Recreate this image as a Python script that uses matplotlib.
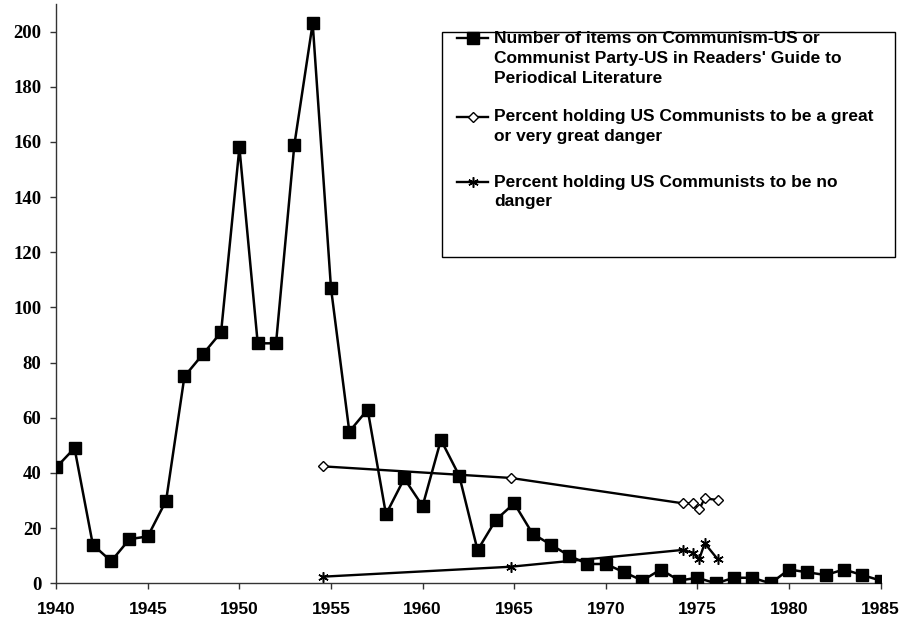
import matplotlib
matplotlib.use("Agg")
import matplotlib.pyplot as plt
from matplotlib.lines import Line2D
from matplotlib.patches import Rectangle

# -----------------------
# Data
# -----------------------
years = list(range(1940, 1986))
items = [42, 49, 14, 8, 16, 17, 30, 75, 83, 91,
         158, 87, 87, 159, 203, 107, 55, 63, 25, 38,
         28, 52, 39, 12, 23, 29, 18, 14, 10, 7,
         7, 4, 1, 5, 1, 2, 0, 2, 2, 0,
         5, 4, 3, 5, 3, 1]

poll_dates = [1954.55, 1964.8, 1974.2, 1974.75, 1975.1, 1975.4, 1976.1]
great_danger = [42.4, 38.2, 29, 29, 26.8, 30.8, 30.2]
no_danger = [2.4, 6.0, 12.1, 11.1, 8.8, 14.5, 8.8]

x_ticks = [1940, 1945, 1950, 1955, 1960, 1965, 1970, 1975, 1980, 1985]
y_ticks = [0, 20, 40, 60, 80, 100, 120, 140, 160, 180, 200]

labels = [
    ["Number of items on Communism-US or",
     "Communist Party-US in Readers' Guide to",
     "Periodical Literature"],
    ["Percent holding US Communists to be a great",
     "or very great danger"],
    ["Percent holding US Communists to be no",
     "danger"],
]

W, H = 906, 625
fig = plt.figure(figsize=(W / 100, H / 100), dpi=100)
ax = fig.add_axes([56.2 / W, 1 - 583.3 / H, (880.6 - 56.2) / W, (583.3 - 4) / H])

ast = (6, 2, 0)
ax.plot(poll_dates, great_danger, color='black', lw=1.7, marker='D', ms=5.5,
        mfc='white', mec='black', mew=1, zorder=3)
ax.plot(poll_dates, no_danger, color='black', lw=1.7, marker=ast, ms=7.5,
        mec='black', mew=1.1, zorder=3)
ax.plot(years, items, color='black', lw=1.8, marker='s', ms=8.5, zorder=4)

ax.set_xlim(1940, 1985)
ax.set_ylim(0, 210)
ax.set_xticks(x_ticks)
ax.set_yticks(y_ticks)
ax.set_xticklabels([str(t) for t in x_ticks], fontfamily='Liberation Sans',
                   fontweight='bold', fontsize=12.5)
ax.set_yticklabels([str(t) for t in y_ticks], fontfamily='Liberation Serif',
                   fontweight='bold', fontsize=13.5)
ax.tick_params(axis='x', direction='out', length=4.5, width=1, color='#333333', pad=9)
ax.tick_params(axis='y', direction='out', length=4.5, width=1, color='#333333', pad=6)
for side in ['top', 'right']:
    ax.spines[side].set_visible(False)
for side in ['left', 'bottom']:
    ax.spines[side].set_color('#333333')
    ax.spines[side].set_linewidth(1)
ax.set_clip_on(False)


# -----------------------
# Legend box (pixel layout, from top-left)
# -----------------------
def fx(x):
    return x / W


def fy(y):
    return 1 - y / H


fig.add_artist(Rectangle((fx(441.7), fy(256.7)), fx(895) - fx(441.7), fy(31.7) - fy(256.7),
                         transform=fig.transFigure, fill=False, edgecolor='black', lw=1))

line_ys = [[38.3, 58.3, 78.3], [116.7, 136.7], [182.0, 201.7]]
handle_styles = [
    dict(marker='s', ms=8.5, mfc='black', mec='black'),
    dict(marker='D', ms=5.5, mfc='white', mec='black', mew=1),
    dict(marker=ast, ms=7.5, mec='black', mew=1.1),
]
for lines, ys, style in zip(labels, line_ys, handle_styles):
    fig.add_artist(Line2D([fx(456.7), fx(488.3)], [fy(ys[0]), fy(ys[0])],
                          transform=fig.transFigure, color='black', lw=1.7))
    fig.add_artist(Line2D([fx(472.5)], [fy(ys[0])], transform=fig.transFigure,
                          color='black', ls='none', **style))
    for txt, y in zip(lines, ys):
        fig.text(fx(494), fy(y), txt, ha='left', va='center', fontfamily='Liberation Sans',
                 fontweight='bold', fontsize=12.5)

fig.savefig('out.png', dpi=100)
